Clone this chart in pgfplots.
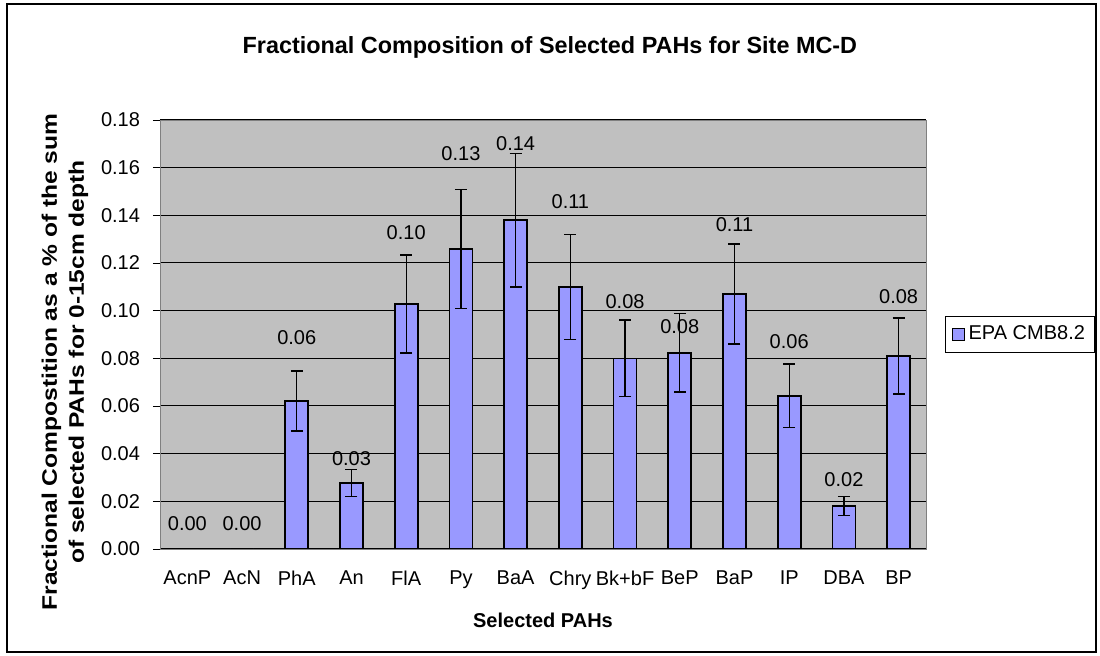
\documentclass[border=0pt]{standalone}
\usepackage{fontspec}
\setmainfont{Liberation Sans}
\usepackage{pgfplots}
\usepackage{pgfplotstable}
\pgfplotsset{compat=1.18}
\definecolor{plotbg}{RGB}{192,192,192}
\definecolor{barfill}{RGB}{153,153,255}
\definecolor{axgray}{RGB}{128,128,128}

% x, value, error
\pgfplotstableread{
x  val     err
0  0.0     0.0
1  0.0     0.0
2  0.0621  0.0126
3  0.0277  0.0057
4  0.1028  0.0205
5  0.1259  0.0250
6  0.1380  0.0280
7  0.1100  0.0220
8  0.0800  0.0160
9  0.0823  0.0165
10 0.1070  0.0210
11 0.0643  0.0133
12 0.0180  0.0040
13 0.0810  0.0160
}\pahdata

% where the value labels sit
\pgfplotstableread{
x  y       lab
0  0.0105  0.00
1  0.0105  0.00
2  0.0885  0.06
3  0.0380  0.03
4  0.1326  0.10
5  0.1660  0.13
6  0.1700  0.14
7  0.1456  0.11
8  0.1040  0.08
9  0.0932  0.08
10 0.1360  0.11
11 0.0869  0.06
12 0.0290  0.02
13 0.1057  0.08
}\labdata

\begin{document}
\begin{tikzpicture}[x=1pt,y=1pt]
\useasboundingbox (-80,-53.5) rectangle (470,274.5);
\draw[line width=1pt] (-76.5,-51.5) rectangle (468,272.5);
\begin{axis}[
  at={(0,0)}, anchor=south west,
  width=383pt, height=214.5pt, scale only axis,
  axis background/.style={fill=plotbg},
  axis line style={axgray},
  xmin=-0.5, xmax=13.5,
  ymin=0, ymax=0.18,
  ytick={0,0.02,...,0.18},
  yticklabel style={/pgf/number format/.cd, fixed, fixed zerofill, precision=2, /tikz/.cd, xshift=-3pt},
  /pgf/number format/assume math mode=true,
  xtick={0,...,13},
  xticklabels={AcnP,AcN,PhA,An,FlA,Py,BaA,Chry,Bk+bF,BeP,BaP,IP,DBA,BP},
  xtick style={draw=none},
  minor xtick={-0.5,0.5,...,13.5},
  minor tick length=3.5pt,
  major tick length=3.5pt,
  tick align=outside,
  xtick pos=bottom, ytick pos=left,
  tick style={black},
  xticklabel style={yshift=-4pt},
  ymajorgrids,
  grid style={black, line width=0.5pt},
  title={Fractional Composition of Selected PAHs for Site MC-D},
  title style={at={(axis description cs:0.509,1.142)}, anchor=center,
    font=\fontsize{11.7}{14}\selectfont\bfseries},
  xlabel={Selected PAHs},
  every axis x label/.style={at={(axis description cs:0.5,-0.1655)}, anchor=center, font=\bfseries},
  ylabel={Fractional Compostition as a \% of the sum\\of selected PAHs for 0-15cm depth},
  every axis y label/.style={at={(axis description cs:-0.124,0.436)}, rotate=90, xscale=1.17,
    anchor=center, font=\fontsize{10.5}{13.5}\selectfont\bfseries, align=center},
  legend style={at={(1.025,0.5)}, anchor=west, draw=black, line width=0.5pt,
    inner xsep=3pt, inner ysep=3pt, cells={anchor=west}},
  legend image code/.code={\draw[#1, line width=0.5pt] (0pt,-3pt) rectangle (6pt,3pt);},
]
\addplot[ybar, bar width=11.5pt, fill=barfill, draw=black, line width=0.8pt,
  error bars/.cd, y dir=both, y explicit,
  error bar style={black, line width=0.7pt},
  error mark options={rotate=90, mark size=3pt, black, line width=0.7pt}]
  table[x=x, y=val, y error=err] {\pahdata};
\addlegendentry{EPA CMB8.2}
\addplot[draw=none, mark=none, forget plot,
  nodes near coords, point meta=explicit symbolic,
  every node near coord/.style={anchor=center, black}]
  table[x=x, y=y, meta=lab] {\labdata};
\end{axis}
\end{tikzpicture}
\end{document}
